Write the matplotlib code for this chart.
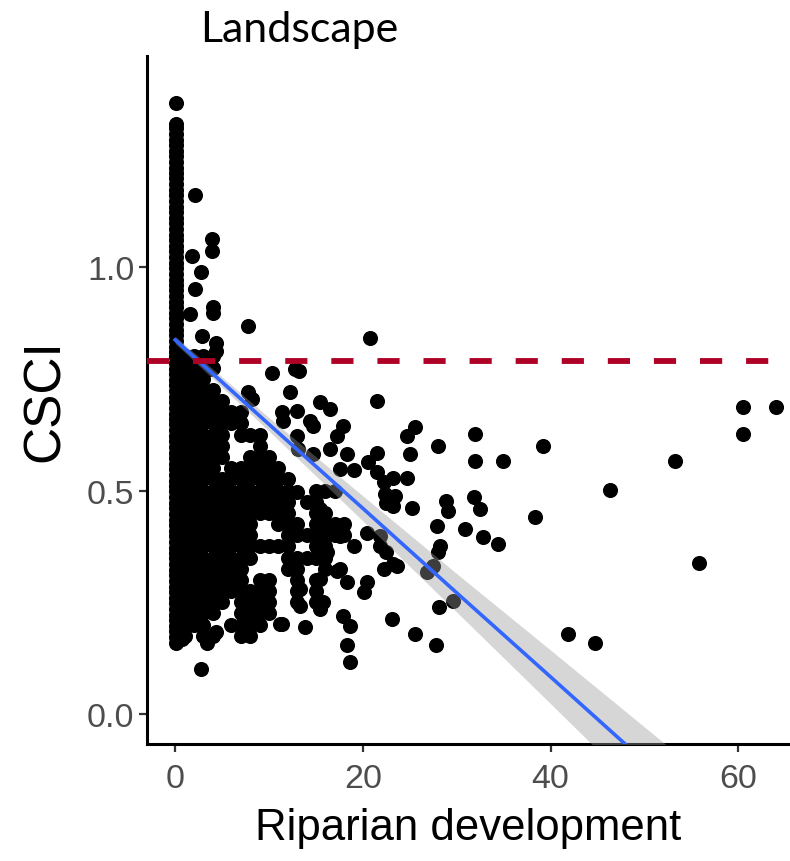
import matplotlib
matplotlib.use("Agg")
import matplotlib.pyplot as plt

# dense vertical band of sites with ~0 riparian development
column_dev = 0.1
column_csci = [
    0.160, 0.172, 0.185, 0.198, 0.210, 0.222, 0.235, 0.248, 0.260, 0.272,
    0.285, 0.298, 0.310, 0.322, 0.335, 0.348, 0.360, 0.372, 0.385, 0.398,
    0.410, 0.422, 0.435, 0.448, 0.460, 0.472, 0.485, 0.498, 0.510, 0.522,
    0.535, 0.548, 0.560, 0.572, 0.585, 0.598, 0.610, 0.622, 0.635, 0.648,
    0.660, 0.672, 0.685, 0.698, 0.710, 0.722, 0.735, 0.748, 0.760, 0.772,
    0.785, 0.798, 0.810, 0.822, 0.835, 0.848, 0.860, 0.872, 0.885, 0.898,
    0.910, 0.922, 0.935, 0.948, 0.960, 0.972, 0.985, 0.998, 1.010, 1.022,
    1.035, 1.048, 1.060, 1.072, 1.085, 1.098, 1.110, 1.122, 1.135, 1.148,
    1.160, 1.172, 1.185, 1.198, 1.210, 1.222, 1.235, 1.248, 1.260, 1.272,
    1.285, 1.298, 1.310, 1.320,
]

# dense core of overlapping points: (csci, [riparian development values])
core_rows = [
    (0.800, [1, 2, 3, 4]),
    (0.775, [1, 2, 3, 4]),
    (0.750, [1, 2, 3]),
    (0.725, [1, 2, 3, 4]),
    (0.700, [1, 2, 3, 4, 5]),
    (0.675, [1, 2, 3, 4, 5, 6, 7]),
    (0.650, [1, 2, 3, 4, 5, 6, 7]),
    (0.625, [1, 2, 3, 4, 5, 7, 8, 9]),
    (0.600, [1, 2, 3, 4, 5, 9]),
    (0.575, [1, 2, 3, 4, 5, 8, 9, 10]),
    (0.550, [1, 2, 3, 4, 6, 7, 8, 9, 10, 11]),
    (0.525, [1, 2, 3, 4, 5, 6, 7, 8, 9, 10, 11, 12]),
    (0.500, [1, 2, 3, 4, 5, 6, 7, 8, 9, 10, 11, 12, 15, 16, 17]),
    (0.475, [1, 2, 3, 4, 5, 6, 7, 8, 9, 10, 11, 12, 14, 15]),
    (0.450, [1, 2, 3, 4, 5, 6, 7, 8, 9, 10, 11, 12, 15, 16]),
    (0.425, [1, 2, 3, 4, 5, 6, 7, 8, 11, 12, 13, 15, 16, 17, 18]),
    (0.400, [1, 2, 3, 4, 5, 6, 7, 8, 12, 13, 14, 15, 16, 17, 18]),
    (0.375, [1, 2, 3, 4, 5, 6, 7, 8, 9, 10, 11, 12, 15, 16]),
    (0.350, [1, 2, 3, 4, 5, 6, 7, 8, 12, 13, 14, 15, 16]),
    (0.325, [1, 2, 3, 4, 5, 6, 7, 12, 13, 16]),
    (0.300, [1, 2, 3, 4, 5, 6, 7, 9, 10, 13, 15]),
    (0.275, [1, 2, 3, 4, 5, 6, 7, 8, 9, 10, 13, 15]),
    (0.250, [1, 2, 3, 4, 5, 7, 8, 9, 10, 13, 15]),
    (0.225, [1, 2, 3, 4, 7, 8, 9, 10]),
    (0.200, [1, 2, 3, 6, 7, 8, 9]),
    (0.175, [1, 3, 4, 7, 8]),
]

# scattered individual sites
scatter_dev = [
    0.1, 2.1, 3.9, 3.9, 1.8, 2.7, 4.0, 4.0, 7.8, 4.3, 2.1, 1.6, 2.9, 4.3, 3.7,
    10.3, 12.8, 13.2, 20.8,
    7.8, 8.2, 12.2, 15.4, 16.5, 21.5,
    11.4, 13.0, 14.4, 14.7, 17.9, 17.2, 24.7, 25.6, 28.0, 31.9, 31.9,
    13.0, 11.5, 13.1, 14.7, 16.5, 18.3, 21.5, 25.0, 34.9,
    17.6, 19.0, 20.5, 21.5, 23.2, 24.7, 22.2, 22.4,
    28.9, 31.8, 32.5, 29.1, 27.9, 30.9, 28.2, 32.8, 34.4, 28.0,
    22.5, 23.2, 23.4, 25.2, 15.4, 13.0, 15.8, 17.6, 19.0, 16.2, 22.5, 23.6,
    21.8, 20.4, 21.8, 17.6, 17.2, 22.2, 23.2, 27.5, 26.8,
    18.3, 20.4, 20.1, 15.4, 15.8, 13.3, 13.3, 15.4, 11.2, 13.8, 17.9, 18.6,
    18.3, 18.6, 23.1, 25.6, 27.8, 28.1, 29.6,
    0.7, 3.4, 4.3, 2.7, 7.6, 8.7, 11.4,
    38.3, 39.2, 41.8, 44.7, 46.3, 53.3, 55.8, 60.5, 64.0, 60.5,
]
scatter_csci = [
    1.367, 1.161, 1.063, 1.036, 1.025, 0.989, 0.911, 0.897, 0.868, 0.830, 0.951, 0.895, 0.846, 0.812, 0.772,
    0.764, 0.772, 0.767, 0.841,
    0.720, 0.705, 0.720, 0.698, 0.682, 0.700,
    0.675, 0.679, 0.656, 0.645, 0.645, 0.623, 0.623, 0.641, 0.600, 0.626, 0.567,
    0.623, 0.656, 0.593, 0.582, 0.593, 0.582, 0.585, 0.582, 0.566,
    0.548, 0.545, 0.563, 0.541, 0.529, 0.529, 0.518, 0.492,
    0.477, 0.485, 0.459, 0.455, 0.421, 0.414, 0.376, 0.395, 0.380, 0.362,
    0.473, 0.466, 0.488, 0.462, 0.459, 0.496, 0.414, 0.399, 0.376, 0.362, 0.362, 0.332,
    0.399, 0.406, 0.376, 0.324, 0.321, 0.324, 0.336, 0.332, 0.317,
    0.295, 0.295, 0.272, 0.302, 0.250, 0.280, 0.242, 0.235, 0.201, 0.194, 0.220, 0.198,
    0.154, 0.116, 0.213, 0.179, 0.154, 0.239, 0.253,
    0.168, 0.160, 0.183, 0.101, 0.198, 0.205, 0.201,
    0.440, 0.599, 0.179, 0.160, 0.501, 0.567, 0.339, 0.686, 0.686, 0.626,
]

# linear fit, with half-width of the 95% band
fit_dev = [0, 10, 20, 30, 40, 50, 60, 63.3]
fit_csci = [0.837, 0.648, 0.460, 0.271, 0.083, -0.106, -0.295, -0.357]
fit_halfwidth = [0.008, 0.015, 0.028, 0.043, 0.060, 0.077, 0.094, 0.100]

threshold = 0.79

x_ticks = [0, 20, 40, 60]
y_ticks = [0.0, 0.5, 1.0]
y_ticklabels = ["0.0", "0.5", "1.0"]

SANS = ["Liberation Sans", "DejaVu Sans"]


def main():
    dev = [column_dev] * len(column_csci)
    csci = list(column_csci)
    for y, xs in core_rows:
        dev += xs
        csci += [y] * len(xs)
    dev += scatter_dev
    csci += scatter_csci

    fig = plt.figure(figsize=(7.9, 8.62), dpi=100)
    ax = fig.add_axes([147 / 790, 117 / 862, 643 / 790, 688 / 862])

    ax.scatter(dev, csci, s=118, color="black", linewidths=0, zorder=2)

    lo = [c - h for c, h in zip(fit_csci, fit_halfwidth)]
    hi = [c + h for c, h in zip(fit_csci, fit_halfwidth)]
    ax.fill_between(fit_dev, lo, hi, color="#999999", alpha=0.4, linewidth=0, zorder=3)
    ax.plot(fit_dev, fit_csci, color="#3366FF", linewidth=2.6, zorder=4)

    ax.axhline(threshold, color="#AF0026", linewidth=4.2, dashes=(3.8, 4.1), zorder=5)

    ax.set_xlim(-3.0, 65.5)
    ax.set_ylim(-0.067, 1.472)
    ax.set_xticks(x_ticks)
    ax.set_yticks(y_ticks)
    ax.set_yticklabels(y_ticklabels)

    for side in ("top", "right"):
        ax.spines[side].set_visible(False)
    for side in ("left", "bottom"):
        ax.spines[side].set_linewidth(2.2)
        ax.spines[side].set_color("black")

    ax.tick_params(axis="both", length=6, width=1.6, color="#333333",
                   labelsize=24.5, labelcolor="#4D4D4D")
    ax.tick_params(axis="x", pad=8)
    ax.tick_params(axis="y", pad=3)
    for lab in ax.get_xticklabels() + ax.get_yticklabels():
        lab.set_family(SANS)

    ax.set_xlabel("Riparian development", fontsize=31.5, family=SANS, labelpad=9)
    ax.set_ylabel("CSCI", fontsize=37, family=SANS, labelpad=12)

    fig.text(200 / 790, 1 - 42 / 862, "Landscape", fontsize=31,
             family=["Lato", "DejaVu Sans"], ha="left", va="baseline")

    fig.savefig("out.png", dpi=100)


if __name__ == "__main__":
    main()
